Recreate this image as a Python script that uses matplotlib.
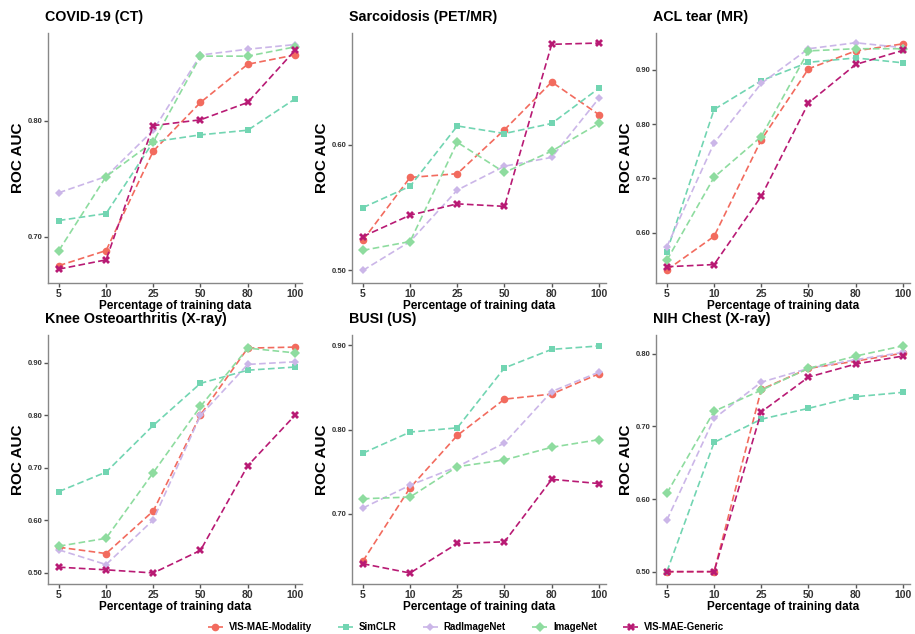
import matplotlib
matplotlib.use("Agg")
import matplotlib.pyplot as plt

plt.rcParams["font.family"] = ["Liberation Sans", "DejaVu Sans"]

# data
fractions = ["5", "10", "25", "50", "80", "100"]
methods = ["VIS-MAE-Modality", "SimCLR", "RadImageNet", "ImageNet", "VIS-MAE-Generic"]

covid = {
    "VIS-MAE-Modality": [0.675, 0.688, 0.774, 0.816, 0.849, 0.857],
    "SimCLR": [0.714, 0.720, 0.782, 0.788, 0.792, 0.819],
    "RadImageNet": [0.738, 0.752, 0.792, 0.857, 0.862, 0.866],
    "ImageNet": [0.688, 0.752, 0.782, 0.856, 0.856, 0.864],
    "VIS-MAE-Generic": [0.672, 0.680, 0.796, 0.801, 0.816, 0.861],
}
sarcoidosis = {
    "VIS-MAE-Modality": [0.524, 0.574, 0.577, 0.612, 0.650, 0.624],
    "SimCLR": [0.550, 0.567, 0.615, 0.609, 0.617, 0.645],
    "RadImageNet": [0.500, 0.523, 0.564, 0.583, 0.590, 0.637],
    "ImageNet": [0.516, 0.523, 0.602, 0.578, 0.595, 0.617],
    "VIS-MAE-Generic": [0.527, 0.544, 0.553, 0.551, 0.680, 0.681],
}
acl = {
    "VIS-MAE-Modality": [0.531, 0.593, 0.771, 0.902, 0.935, 0.948],
    "SimCLR": [0.565, 0.827, 0.880, 0.914, 0.922, 0.913],
    "RadImageNet": [0.574, 0.765, 0.875, 0.939, 0.950, 0.941],
    "ImageNet": [0.549, 0.702, 0.777, 0.935, 0.939, 0.939],
    "VIS-MAE-Generic": [0.537, 0.541, 0.667, 0.839, 0.910, 0.936],
}
knee = {
    "VIS-MAE-Modality": [0.549, 0.537, 0.618, 0.801, 0.928, 0.930],
    "SimCLR": [0.655, 0.692, 0.781, 0.861, 0.886, 0.892],
    "RadImageNet": [0.544, 0.516, 0.601, 0.800, 0.897, 0.902],
    "ImageNet": [0.551, 0.566, 0.691, 0.817, 0.928, 0.919],
    "VIS-MAE-Generic": [0.511, 0.506, 0.500, 0.543, 0.704, 0.800],
}
busi = {
    "VIS-MAE-Modality": [0.644, 0.731, 0.793, 0.836, 0.842, 0.866],
    "SimCLR": [0.772, 0.797, 0.802, 0.873, 0.895, 0.899],
    "RadImageNet": [0.707, 0.734, 0.756, 0.784, 0.845, 0.868],
    "ImageNet": [0.718, 0.720, 0.756, 0.764, 0.779, 0.788],
    "VIS-MAE-Generic": [0.641, 0.630, 0.665, 0.667, 0.741, 0.736],
}
nih = {
    "VIS-MAE-Modality": [0.500, 0.500, 0.751, 0.780, 0.790, 0.801],
    "SimCLR": [0.500, 0.678, 0.710, 0.725, 0.741, 0.747],
    "RadImageNet": [0.571, 0.711, 0.761, 0.780, 0.792, 0.802],
    "ImageNet": [0.608, 0.721, 0.750, 0.780, 0.797, 0.811],
    "VIS-MAE-Generic": [0.500, 0.500, 0.720, 0.768, 0.786, 0.797],
}

panels = [
    ("COVID-19 (CT)", covid, [0.70, 0.80], (0.660, 0.876)),
    ("Sarcoidosis (PET/MR)", sarcoidosis, [0.50, 0.60], (0.490, 0.689)),
    ("ACL tear (MR)", acl, [0.60, 0.70, 0.80, 0.90], (0.507, 0.968)),
    ("Knee Osteoarthritis (X-ray)", knee, [0.50, 0.60, 0.70, 0.80, 0.90], (0.479, 0.953)),
    ("BUSI (US)", busi, [0.70, 0.80, 0.90], (0.617, 0.912)),
    ("NIH Chest (X-ray)", nih, [0.50, 0.60, 0.70, 0.80], (0.483, 0.826)),
]

styles = {
    "VIS-MAE-Modality": dict(color="#F26B5E", marker="o", ms=5.5),
    "SimCLR": dict(color="#72D5B2", marker="s", ms=5.0),
    "RadImageNet": dict(color="#CBB6E8", marker="D", ms=4.5),
    "ImageNet": dict(color="#8EDC9F", marker="D", ms=5.0),
    "VIS-MAE-Generic": dict(color="#B81A74", marker="X", ms=6.0),
}

W, H = 915, 634
fig = plt.figure(figsize=(W / 100, H / 100), dpi=100)

lefts = [48, 352, 656]
rows = [(33, 283), (335, 584)]
x = list(range(len(fractions)))

for i, (title, data, yticks, ylim) in enumerate(panels):
    r, c = divmod(i, 3)
    top, bot = rows[r]
    ax = fig.add_axes([lefts[c] / W, 1 - bot / H, 254 / W, (bot - top) / H])
    for m in methods:
        st = styles[m]
        ax.plot(x, data[m], linestyle="--", linewidth=1.2, color=st["color"],
                marker=st["marker"], markersize=st["ms"], markeredgewidth=0,
                label=m, dashes=(4, 2))
    ax.set_xticks(x)
    ax.set_xticklabels(fractions)
    ax.set_xlim(-0.23, 5.15)
    ax.set_yticks(yticks)
    ax.set_yticklabels([f"{v:.2f}" for v in yticks])
    ax.set_ylim(*ylim)
    for s in ["top", "right"]:
        ax.spines[s].set_visible(False)
    for s in ["left", "bottom"]:
        ax.spines[s].set_color("#888888")
        ax.spines[s].set_linewidth(1.0)
    ax.tick_params(axis="y", labelsize=5.5, length=3, width=1, color="#555555",
                   labelcolor="#333333", pad=1)
    ax.tick_params(axis="x", labelsize=7.5, length=3, width=1, color="#555555",
                   labelcolor="#333333", pad=1)
    for lab in ax.get_xticklabels() + ax.get_yticklabels():
        lab.set_fontweight("bold")
    ax.set_title(title, loc="left", fontsize=10.3, fontweight="bold", pad=9, x=-0.01)
    ax.set_ylabel("ROC AUC", fontsize=11, fontweight="bold")
    ax.set_xlabel("Percentage of training data", fontsize=8.5, fontweight="bold",
                  labelpad=1)
    ax.yaxis.set_label_coords(-0.09, 0.5)

handles, labels = ax.get_legend_handles_labels()
leg = fig.legend(handles, labels, loc="center", bbox_to_anchor=(466 / W, 1 - 627 / H),
                 ncol=5, frameon=False, fontsize=7, handlelength=1.55,
                 columnspacing=2.7, handletextpad=0.6)
for t in leg.get_texts():
    t.set_fontweight("bold")

fig.savefig("out.png", dpi=100)
